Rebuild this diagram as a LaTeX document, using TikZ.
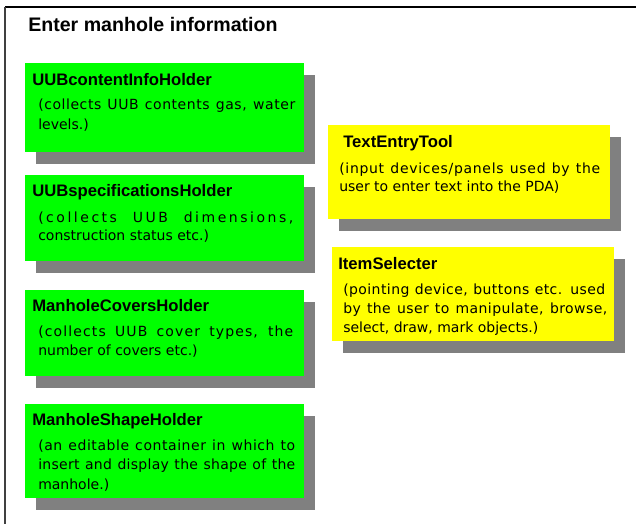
\documentclass[tikz,border=0pt]{standalone}
\usepackage{fontspec}
\setmainfont{Liberation Sans}
\newfontfamily\bodyfont{DejaVu Sans}
\usetikzlibrary{shadows}
\definecolor{boxgreen}{RGB}{0,255,0}
\definecolor{boxyellow}{RGB}{255,255,0}
\definecolor{shadowgray}{RGB}{128,128,128}
% a justified line: letter spacing #1, full width #2 (in px units), text #3
\newcommand\jline[3]{\makebox[\dimexpr #2pt*3/4\relax][s]{\addfontfeature{LetterSpace=#1}#3}}
\tikzset{
  panel/.style={anchor=north west, inner sep=0pt, outer sep=0pt, draw=none,
    drop shadow={shadow xshift=8.6pt, shadow yshift=-9pt, fill=shadowgray, opacity=1}},
  greenbox/.style={panel, fill=boxgreen},
  yellowbox/.style={panel, fill=boxyellow},
  heading/.style={anchor=base west, inner sep=0pt, font=\bfseries\fontsize{12.5}{14}\selectfont},
  body/.style={anchor=base west, inner sep=0pt, font=\bodyfont\fontsize{10.5}{12}\selectfont},
  bigtitle/.style={anchor=base west, inner sep=0pt, font=\bfseries\fontsize{14.7}{17}\selectfont},
}
\begin{document}
\begin{tikzpicture}[x=0.75pt, y=-0.75pt]
\useasboundingbox (0,0) rectangle (636,524);

% outer frame
\coordinate (frameTR) at (640,7);
\coordinate (frameTL) at (5,7);
\coordinate (frameBL) at (5,528);
\draw[line width=1.5pt, black] (frameTR) -- (frameTL);
\draw[line width=1.2pt, black!75] (frameTL) -- (frameBL);

\node[bigtitle] (title) at (28,32) {Enter manhole information};

% left column
\node[greenbox, minimum width=209.25pt, minimum height=66.4pt] (g1) at (25,63) {};
\node[heading] (g1h) at (32,85.7) {UUBcontentInfoHolder};
\node[body] (g1a) at (38,110) {\jline{4}{257}{(collects UUB contents gas, water}};
\node[body] (g1b) at (38,129.3) {levels.)};

\node[greenbox, minimum width=208.9pt, minimum height=64.8pt] (g2) at (25,175) {};
\node[heading] (g2h) at (32,196.7) {UUBspecificationsHolder};
\node[body] (g2a) at (38,222.3) {\jline{18}{255}{(collects UUB dimensions,}};
\node[body] (g2b) at (38,241) {construction status etc.)};

\node[greenbox, minimum width=209.25pt, minimum height=64.3pt] (g3) at (25,290) {};
\node[heading] (g3h) at (32,311.7) {ManholeCoversHolder};
\node[body] (g3a) at (38,336.7) {\jline{8}{255}{(collects UUB cover types, the}};
\node[body] (g3b) at (38,355.3) {number of covers etc.)};

\node[greenbox, minimum width=209.25pt, minimum height=70.3pt] (g4) at (25,404) {};
\node[heading] (g4h) at (32,425.7) {ManholeShapeHolder};
\node[body] (g4a) at (38,450) {\jline{4}{257}{(an editable container in which to}};
\node[body] (g4b) at (38,469.3) {\jline{2}{257}{insert and display the shape of the}};
\node[body] (g4c) at (38,489) {manhole.)};

% right column
\node[yellowbox, minimum width=211.5pt, minimum height=70.5pt] (y1) at (328,125) {};
\node[heading] (y1h) at (343,147.3) {TextEntryTool};
\node[body] (y1a) at (339,173.3) {\jline{5}{261}{(input devices/panels used by the}};
\node[body] (y1b) at (339,191.7) {user to enter text into the PDA)};

\node[yellowbox, minimum width=211.5pt, minimum height=70.5pt] (y2) at (332,246.7) {};
\node[heading] (y2h) at (338,269.3) {ItemSelecter};
\node[body] (y2a) at (343,294.3) {\jline{3}{262}{(pointing device, buttons etc. used}};
\node[body] (y2b) at (343,313.3) {\jline{3}{264}{by the user to manipulate, browse,}};
\node[body] (y2c) at (343,332.3) {select, draw, mark objects.)};
\end{tikzpicture}
\end{document}
